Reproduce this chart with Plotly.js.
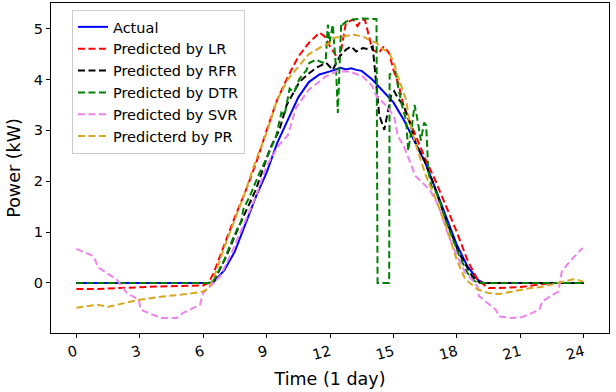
<!DOCTYPE html>
<html>
<head>
<meta charset="utf-8">
<script src="https://cdn.plot.ly/plotly-3.0.1.min.js"></script>
<style>html,body{margin:0;padding:0;background:#fff}#chart{width:616px;height:392px}</style>
</head>
<body>
<div id="chart"></div>
<script>
// Actual
var tA = [0,6.25,6.5,7,7.5,8,8.5,9,9.5,10,10.5,11,11.5,12,12.25,12.5,12.75,13,13.25,13.5,14,14.5,15,15.5,16,16.5,17,17.5,18,18.5,19,19.25,24];
var vA = [0,0,0.02,0.25,0.62,1.18,1.7,2.17,2.75,3.2,3.65,3.95,4.1,4.16,4.2,4.23,4.2,4.22,4.19,4.17,4.0,3.78,3.55,3.2,2.8,2.37,1.84,1.3,0.75,0.33,0.06,0,0];
// Predicted by LR
var tR = [0,1,2,3,4,5,6,6.25,6.5,7,7.5,8,8.5,9,9.5,10,10.5,11,11.5,11.75,12,12.3,12.45,12.75,13.1,13.3,13.45,13.65,13.85,14.0,14.3,14.55,14.8,15,15.25,15.5,16,16.5,17,17.5,18,18.5,19,19.5,20,21,22,22.5,24];
var vR = [-0.12,-0.12,-0.1,-0.08,-0.07,-0.06,-0.05,0.0,0.2,0.75,1.3,1.8,2.35,3.0,3.6,4.05,4.45,4.72,4.92,4.85,4.65,4.46,4.39,5.11,5.18,5.05,5.15,5.18,4.85,4.59,4.52,4.65,4.52,4.19,3.9,3.45,2.95,2.45,2.0,1.5,1.0,0.45,0.05,-0.1,-0.1,-0.08,-0.02,0,0];
// Predicted by RFR
var tF = [0,6.25,6.5,7.1,7.7,8.5,9.15,9.6,9.95,10.55,11.03,11.35,11.82,12.13,12.45,12.76,13.0,13.24,13.55,13.8,14.02,14.1,14.26,14.33,14.57,14.73,14.88,15.04,15.2,15.51,15.67,15.83,16.06,16.45,16.85,17.48,18.1,18.73,19.1,24];
var vF = [0,0,0.03,0.53,1.12,1.84,2.63,3.0,3.5,3.95,4.13,4.23,4.33,4.19,4.45,4.59,4.65,4.55,4.62,4.6,4.65,4.33,3.67,3.3,3.01,3.34,3.67,3.77,3.64,3.47,3.28,3.08,2.75,2.42,2.0,1.25,0.59,0.13,0,0];
// Predicted by DTR
var tD = [0,6.25,6.5,7,7.25,7.5,7.65,7.8,7.9,8.2,8.5,8.67,9.0,9.15,9.46,9.7,9.85,10.09,10.3,10.56,10.88,11.03,11.35,11.66,11.8,11.9,11.98,12.13,12.29,12.37,12.45,12.53,12.6,12.76,13.08,13.5,14.2,14.25,14.8,14.82,15.1,15.2,15.4,15.6,15.7,15.85,16.0,16.1,16.3,16.45,16.55,16.65,16.8,17.0,17.2,17.5,18.1,18.5,18.75,19.0,24];
var vD = [0,0,0.05,0.45,0.72,0.95,1.1,1.2,1.45,1.7,2.0,2.17,2.45,2.6,2.9,3.35,3.3,3.82,3.75,4.02,4.18,4.33,4.39,4.33,4.4,5.08,4.72,5.08,4.19,3.34,4.3,5.11,5.08,5.14,5.18,5.2,5.19,0,0,4.1,4.15,3.9,3.5,3.2,2.6,3.0,3.5,3.3,2.8,3.15,3.1,2.2,1.9,1.8,1.6,1.2,0.55,0.2,0.06,0,0];
// Predicted by SVR
var tS = [0,0.8,1.05,1.9,2.4,2.95,3.05,4,4.75,5.05,5.85,6.0,6.5,6.8,7.3,7.9,8.5,9,9.6,10,10.4,11,11.8,12.3,12.9,13.55,14.0,14.2,14.7,15.05,15.2,15.5,16.05,16.7,17.15,17.5,17.95,18.4,18.6,18.97,19.05,19.85,20,20.6,21.1,21.9,22.05,22.8,22.97,23.3,23.95];
var vS = [0.67,0.53,0.3,0.07,-0.2,-0.33,-0.53,-0.69,-0.69,-0.59,-0.43,-0.2,0,0.13,0.55,1.12,1.71,2.3,2.72,2.9,3.45,3.8,4.06,4.16,4.16,4.06,3.87,3.67,3.47,3.25,2.9,2.68,2.1,1.84,1.51,1.05,0.59,0.2,0.12,-0.07,-0.26,-0.53,-0.66,-0.69,-0.67,-0.53,-0.36,-0.17,0.23,0.4,0.69];
// Predicterd by PR
var tP = [0,0.5,1,1.5,2,3,4,4.5,5,6,6.25,6.5,7,7.5,8,8.5,9,9.5,10,10.5,11,11.5,12,12.2,12.6,13.1,13.55,13.85,14.2,14.5,14.8,15.0,15.2,15.6,15.75,16,16.5,17,17.5,18,18.4,19,19.5,20,20.5,21,21.5,22,22.5,23,23.5,23.8,24];
var vP = [-0.49,-0.46,-0.43,-0.47,-0.42,-0.33,-0.27,-0.25,-0.23,-0.17,-0.1,0.1,0.7,1.25,1.8,2.42,2.95,3.6,4.0,4.25,4.5,4.62,4.72,4.82,4.85,4.88,4.85,4.78,4.72,4.6,4.52,4.35,4.08,3.6,3.2,2.8,2.15,1.65,1.1,0.45,0.07,-0.13,-0.2,-0.22,-0.18,-0.14,-0.1,-0.08,-0.03,0.02,0.07,0.05,0.02];

var seriesNames = ["Actual","Predicted by LR","Predicted by RFR","Predicted by DTR","Predicted by SVR","Predicterd by PR"];
var xTicks = [0,3,6,9,12,15,18,21,24];
var yTicks = [0,1,2,3,4,5];

var xs = [tA,tR,tF,tD,tS,tP];
var ys = [vA,vR,vF,vD,vS,vP];
var colors = ["#0000ff","#ff0000","#000000","#008000","#ee82ee","#daa520"];
var dashes = ["solid","7px,3.5px","7px,3.5px","7px,3.5px","7px,3.5px","7px,3.5px"];

var traces = seriesNames.map(function(n,i){
  return {x:xs[i], y:ys[i], name:n, type:"scatter", mode:"lines",
    legendgroup:"g"+i,
    line:{color:colors[i], width:2, dash:dashes[i]}};
});

var font = "DejaVu Sans, sans-serif";
var layout = {
  width:616, height:392,
  margin:{l:51,r:7,t:3,b:59},
  paper_bgcolor:"#fff", plot_bgcolor:"#fff",
  font:{family:font, size:14.5, color:"#000"},
  showlegend:true,
  legend:{x:0.0376, y:0.979, xanchor:"left", yanchor:"top",
    bgcolor:"rgba(255,255,255,0.85)", bordercolor:"#cccccc", borderwidth:1,
    font:{family:font, size:14.5, color:"#000"},
    traceorder:"grouped", tracegroupgap:0},
  xaxis:{range:[-1.2,25.2], tickvals:xTicks, ticktext:xTicks.map(String),
    tickangle:-15, ticks:"outside", ticklen:4, tickcolor:"#000", tickwidth:1,
    showline:true, linecolor:"#000", linewidth:1, mirror:true,
    showgrid:false, zeroline:false,
    tickfont:{family:font,size:14.5,color:"#000"},
    title:{text:"Time (1 day)", font:{family:font,size:17.5,color:"#000"}, standoff:10}},
  yaxis:{range:[-0.985,5.505], tickvals:yTicks, ticktext:yTicks.map(String),
    ticks:"outside", ticklen:4, tickcolor:"#000", tickwidth:1,
    showline:true, linecolor:"#000", linewidth:1, mirror:true,
    showgrid:false, zeroline:false,
    tickfont:{family:font,size:14.5,color:"#000"},
    title:{text:"Power (kW)", font:{family:font,size:17.5,color:"#000"}, standoff:8}}
};
Plotly.newPlot("chart", traces, layout, {displayModeBar:false, staticPlot:true});
</script>
</body>
</html>
